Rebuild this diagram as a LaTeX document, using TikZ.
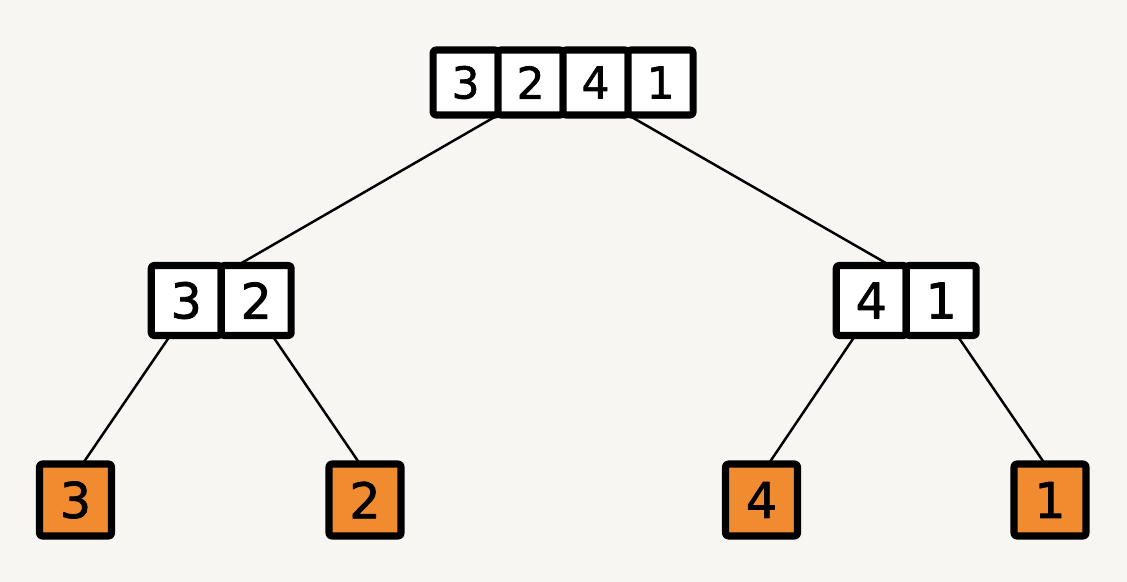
\documentclass[tikz,border=0pt]{standalone}
\usepackage{fontspec}
\setmainfont{DejaVu Sans}
\newfontfamily\digitfont{DejaVu Sans}[FakeBold=1.5]
\usetikzlibrary{positioning}
\definecolor{paper}{HTML}{F7F6F2}
\definecolor{leaforange}{HTML}{F08B30}
\tikzset{
  cell/.style={draw,line width=4pt,rounded corners=1.5pt,fill=white,minimum size=1.4cm,
    inner sep=0pt,outer sep=0pt,font=\fontsize{28}{30}\digitfont},
  topcell/.style={cell,minimum size=1.3cm,font=\fontsize{25}{28}\digitfont},
  leaf/.style={cell,fill=leaforange,minimum size=1.44cm},
  edge/.style={line width=1.4pt}
}
\begin{document}
\begin{tikzpicture}[x=0.02cm,y=-0.02cm,line join=round,line cap=round]
  \fill[paper] (0,0) rectangle (1127,582);
  % root array
  \node[topcell] (t1) at (465.6,82.5) {3};
  \node[topcell,right=0pt of t1] (t2) {2};
  \node[topcell,right=0pt of t2] (t3) {4};
  \node[topcell,right=0pt of t3] (t4) {1};
  % second level
  \node[cell] (l1) at (186.25,300.5) {3};
  \node[cell,right=0pt of l1] (l2) {2};
  \node[cell] (r1) at (871.25,300.5) {4};
  \node[cell,right=0pt of r1] (r2) {1};
  % leaves
  \node[leaf] (a3) at (75.5,500) {3};
  \node[leaf] (a2) at (365,500) {2};
  \node[leaf] (a4) at (761.5,500) {4};
  \node[leaf] (a1) at (1050,500) {1};
  % connectors
  \draw[edge] (t1.south east) -- ([xshift=0.32cm]l2.north west);
  \draw[edge] (t3.south east) -- ([xshift=-0.32cm]r1.north east);
  \draw[edge] ([xshift=-0.32cm]l1.south) -- ([xshift=0.14cm]a3.north);
  \draw[edge] ([xshift=0.32cm]l2.south) -- ([xshift=-0.1cm]a2.north);
  \draw[edge] ([xshift=-0.32cm]r1.south) -- ([xshift=0.14cm]a4.north);
  \draw[edge] ([xshift=0.32cm]r2.south) -- ([xshift=-0.1cm]a1.north);
\end{tikzpicture}
\end{document}
